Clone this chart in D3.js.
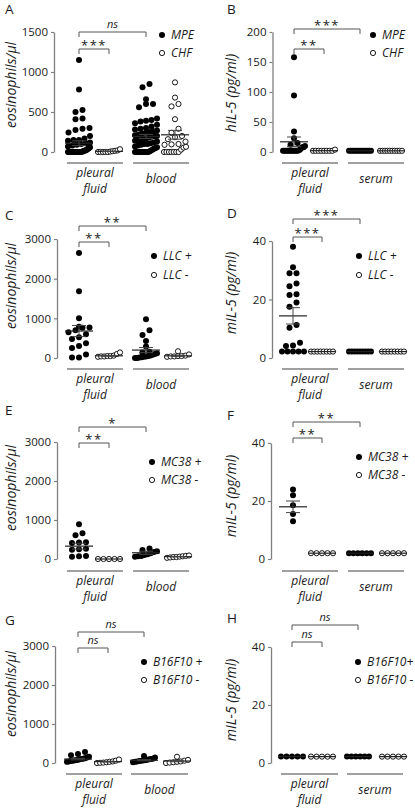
<!DOCTYPE html>
<html><head><meta charset="utf-8">
<script src="https://cdn.jsdelivr.net/npm/d3@7"></script>
<style>
body{margin:0;background:#fff}
svg{display:block}
text{font-family:"Open Sans",sans-serif;fill:#1a1a1a}
</style>
</head><body><script>
// ---------------- DATA ----------------
const panelLetters = ["A","B","C","D","E","F","G","H"];
const yLabels = ["eosinophils/\u03bcl","hIL-5 (pg/ml)","eosinophils/\u03bcl","mIL-5 (pg/ml)",
                 "eosinophils/\u03bcl","mIL-5 (pg/ml)","eosinophils/\u03bcl","mIL-5 (pg/ml)"];
const catsLeft = [["pleural","fluid"],["blood"]];
const catsRight = [["pleural","fluid"],["serum"]];
const legendA = ["MPE","CHF"];
const legendC = ["LLC +","LLC -"];
const legendE = ["MC38 +","MC38 -"];
const legendG = ["B16F10 +","B16F10 -"];
const legendH = ["B16F10+","B16F10 -"];
const ticksA = [0,500,1000,1500];
const ticksB = [0,50,100,150,200];
const ticksMouseEos = [0,1000,2000,3000];
const ticksMouseIL5 = [0,20,40];
const sigA = ["ns","***"], sigB = ["***","**"], sigC = ["**","**"], sigD = ["***","***"];
const sigE = ["*","**"], sigF = ["**","**"], sigG = ["ns","ns"], sigH = ["ns","ns"];

// Panel A: eosinophils/µl (MPE pleural, CHF pleural, MPE blood, CHF blood)
const A_MPE_pf = [1150,780,525,500,420,410,300,290,275,245,200,170,150,150,140,120,110,100,90,80,70,60,50,40,30,25,20,15,10,5,0,0,0,0,0,0,0,0,0,0,0,0,0,0,0];
const A_CHF_pf = [35,20,15,10,5,0,0,0,0,0];
const A_MPE_bl = [850,810,660,600,600,560,420,400,390,380,360,340,320,300,290,280,270,260,250,240,230,220,210,200,200,190,180,170,160,150,150,140,130,120,110,100,100,90,80,70,60,50,40,30,20,10,0,0,0,0,0,0,0,0,0,0];
const A_CHF_bl = [870,680,600,570,410,290,240,200,185,160,130,100,95,90,65,55,30,0,0,0,0,0,0,0];
const meansA = [110,8,195,215], semsA = [30,2,25,55];
// Panel B: hIL-5 pg/ml
const B_MPE_pf = [158,94,34,23,15,12,10,8,8,5,3,2,2,2,2,2,2,2,2,2,2,2];
const B_CHF_pf = [4,2,2,2,2,2,2,2,2];
const B_MPE_se = [2,2,2,2,2,2,2,2,2,2,2,2,2];
const B_CHF_se = [2,2,2,2,2,2,2,2,2,2];
const meansB = [17,2.2,2,2], semsB = [8,0,0,0];
// Panel C: LLC eosinophils
const C_pos_pf = [2650,1680,1000,790,770,760,700,650,600,520,480,370,300,250,90,10,10];
const C_neg_pf = [140,100,60,50,50,40,40,30];
const C_pos_bl = [980,700,580,430,290,160,140,120,100,80,60,50,40,30,20,10,0,0];
const C_neg_bl = [170,90,60,50,50,40,40,30];
const meansC = [680,55,200,55], semsC = [140,12,65,15];
// Panel D: LLC mIL-5
const D_pos_pf = [38,31,29,29,25.5,24.5,21.8,21.5,19,17.5,11.3,10.3,5.2,4.3,4.1,2.2,2.2,2.2,2.2,2.2];
const D_neg_pf = [2.2,2.2,2.2,2.2,2.2,2.2,2.2,2.2];
const D_pos_se = [2.2,2.2,2.2,2.2,2.2,2.2,2.2,2.2,2.2];
const D_neg_se = [2.2,2.2,2.2,2.2,2.2,2.2,2.2,2.2];
const meansD = [14.4,2.2,2.2,2.2], semsD = [2.8,0,0,0];
// Panel E: MC38 eosinophils
const E_pos_pf = [890,660,610,430,420,410,260,250,240,80,70,60];
const E_neg_pf = [0,0,0,0,0];
const E_pos_bl = [270,230,200,180,150,120,100,80,70,60];
const E_neg_bl = [90,80,70,60,50,50,40,30];
const meansE = [330,0,160,60], semsE = [75,0,40,6];
// Panel F: MC38 mIL-5
const F_pos_pf = [24,22,18.5,15.5,13];
const F_neg_pf = [2,2,2,2,2];
const F_pos_se = [2,2,2,2,2,2];
const F_neg_se = [2,2,2,2,2];
const meansF = [18,2,2,2], semsF = [2,0,0,0];
// Panel G: B16F10 eosinophils
const G_pos_pf = [280,230,200,160,140,120,110,100,90,80,70,60,50,40,30];
const G_neg_pf = [90,60,40,30,20,10,5,0];
const G_pos_bl = [180,140,110,100,90,80,70,60,50,40,30,20];
const G_neg_bl = [160,80,60,40,30,20,10,0];
const meansG = [100,35,70,50], semsG = [20,10,15,18];
// Panel H: B16F10 mIL-5
const H_pos_pf = [2.2,2.2,2.2,2.2,2.2];
const H_neg_pf = [2.2,2.2,2.2,2.2,2.2];
const H_pos_se = [2.2,2.2,2.2,2.2,2.2,2.2];
const H_neg_se = [2.2,2.2,2.2,2.2,2.2];
const meansH = [2.2,2.2,2.2,2.2], semsH = [0,0,0,0];

// ---------------- LAYOUT ----------------
const LSP = [[67,123],[133,189]], RSP = [[282,338],[348,404]];
const panels = [
 {data:[A_MPE_pf,A_CHF_pf,A_MPE_bl,A_CHF_bl], means:meansA, sems:semsA, ticks:ticksA, max:1500, legend:legendA, sig:sigA, cats:catsLeft,
  L:{ax:54,y0:152,y1:32,gx:[79,109,146,175],ul:163,sp:LSP,bT:32,bI:49,leg:[162,35,53],let:[5,14],lab:[16,85]}},
 {data:[B_MPE_pf,B_CHF_pf,B_MPE_se,B_CHF_se], means:meansB, sems:semsB, ticks:ticksB, max:200, legend:legendA, sig:sigB, cats:catsRight,
  L:{ax:272.5,y0:152,y1:32,gx:[294,324,360,391],ul:163,sp:RSP,bT:29,bI:49,leg:[373,35,53],let:[227,14],lab:[236,93]}},
 {data:[C_pos_pf,C_neg_pf,C_pos_bl,C_neg_bl], means:meansC, sems:semsC, ticks:ticksMouseEos, max:3000, legend:legendC, sig:sigC, cats:catsLeft,
  L:{ax:57,y0:358,y1:239,gx:[79,109,146,178],ul:369,sp:LSP,bT:226,bI:242,leg:[154,256,275],let:[5,220],lab:[16,286]}},
 {data:[D_pos_pf,D_neg_pf,D_pos_se,D_neg_se], means:meansD, sems:semsD, ticks:ticksMouseIL5, max:40, legend:legendC, sig:sigD, cats:catsRight,
  L:{ax:272,y0:358,y1:241,gx:[293,322,360,393],ul:369,sp:RSP,bT:219,bI:237,leg:[359,256,275],let:[227,218],lab:[236,293]}},
 {data:[E_pos_pf,E_neg_pf,E_pos_bl,E_neg_bl], means:meansE, sems:semsE, ticks:ticksMouseEos, max:3000, legend:legendE, sig:sigE, cats:catsLeft,
  L:{ax:57,y0:559,y1:442,gx:[79,109,146,178],ul:571,sp:LSP,bT:427,bI:443,leg:[152,462,480],let:[5,415],lab:[16,488]}},
 {data:[F_pos_pf,F_neg_pf,F_pos_se,F_neg_se], means:meansF, sems:semsF, ticks:ticksMouseIL5, max:40, legend:legendE, sig:sigF, cats:catsRight,
  L:{ax:271,y0:559,y1:443,gx:[293,322,360,393],ul:571,sp:RSP,bT:422,bI:438,leg:[359,457,475],let:[227,420],lab:[236,496]}},
 {data:[G_pos_pf,G_neg_pf,G_pos_bl,G_neg_bl], means:meansG, sems:semsG, ticks:ticksMouseEos, max:3000, legend:legendG, sig:sigG, cats:catsLeft,
  L:{ax:55,y0:763,y1:646,gx:[78,108,144,177],ul:774,sp:[[66,122],[131,188]],bT:632,bI:648,leg:[144,662,680],let:[5,625],lab:[16,694]}},
 {data:[H_pos_pf,H_neg_pf,H_pos_se,H_neg_se], means:meansH, sems:semsH, ticks:ticksMouseIL5, max:40, legend:legendH, sig:sigH, cats:catsRight,
  L:{ax:271,y0:763,y1:647,gx:[292,322,358,393],ul:774,sp:[[281,338],[347,403]],bT:625,bI:642,leg:[358,662,680],let:[227,623],lab:[236,700]}}
];

const R = 3, ROWH = 5.5, MAXSPAN = 22, GAP = 7;
const svg = d3.select("body").append("svg").attr("width",415).attr("height",808);

// row-based scatter layout (Prism-like)
function layout(vals, y, cx){
  const pts = vals.map(v => ({v, py:y(v)})).sort((a,b)=>b.py-a.py);
  const rows = [];
  pts.forEach(p => {
    const r = rows[rows.length-1];
    if (r && Math.abs(p.py - r[0].py) < ROWH) r.push(p); else rows.push([p]);
  });
  rows.forEach(r => {
    const n = r.length, s = n>1 ? Math.min(GAP, MAXSPAN/(n-1)) : 0;
    r.forEach((p,i) => p.px = cx + (i-(n-1)/2)*s);
  });
  return pts;
}

panels.forEach((P,pi) => {
  const L = P.L;
  const g = svg.append("g");
  const y = d3.scaleLinear().domain([0,P.max]).range([L.y0,L.y1]);
  const x = d3.scaleOrdinal().domain([0,1,2,3]).range(L.gx);

  const ax = g.append("g").attr("transform",`translate(${L.ax},0)`)
    .call(d3.axisLeft(y).tickValues(P.ticks).tickSize(3).tickSizeOuter(0).tickPadding(3).tickFormat(d3.format("d")));
  ax.select(".domain").attr("stroke","#808080").attr("stroke-width",1.3);
  ax.selectAll(".tick line").attr("stroke","#808080").attr("stroke-width",1.2);
  ax.selectAll(".tick text").style("font-family","'Open Sans',sans-serif").style("font-size","11.5px").attr("fill","#1a1a1a");

  g.append("text").attr("transform",`translate(${L.lab[0]},${L.lab[1]}) rotate(-90)`)
    .attr("text-anchor","middle").style("font-size","14px").style("font-style","italic").text(yLabels[pi]);
  g.append("text").attr("x",L.let[0]).attr("y",L.let[1]).style("font-size","13.5px").text(panelLetters[pi]);

  L.sp.forEach((sp,ci) => {
    g.append("line").attr("x1",sp[0]).attr("x2",sp[1]).attr("y1",L.ul).attr("y2",L.ul)
      .attr("stroke","#808080").attr("stroke-width",1.5);
    const lines = P.cats[ci], cx = (sp[0]+sp[1])/2;
    const t = g.append("text").attr("text-anchor","middle").style("font-size","12px").style("font-style","italic");
    if (lines.length===2){
      t.append("tspan").attr("x",cx).attr("y",L.ul+14).text(lines[0]);
      t.append("tspan").attr("x",cx).attr("y",L.ul+30).text(lines[1]);
    } else t.attr("x",cx).attr("y",L.ul+20).text(lines[0]);
  });

  const br = [[L.bT, x(0), x(2), P.sig[0]],[L.bI, x(0), x(1), P.sig[1]]];
  br.forEach(([by,x1,x2,s]) => {
    g.append("path").attr("d",`M${x1},${by+5}V${by}H${x2}V${by+5}`).attr("fill","none")
      .attr("stroke","#555").attr("stroke-width",1);
    const isNs = s==="ns";
    g.append("text").attr("x",(x1+x2)/2).attr("y", isNs ? by-4 : by+1).attr("text-anchor","middle")
      .style("font-size", isNs ? "11px":"13px").style("font-style", isNs ? "italic":"normal")
      .style("letter-spacing", isNs ? "0px":"1.5px").text(s);
  });

  P.data.forEach((vals,gi) => {
    const pts = layout(vals, y, x(gi));
    const filled = gi%2===0;
    g.append("g").selectAll("circle").data(pts).join("circle")
      .attr("cx",d=>d.px).attr("cy",d=>d.py).attr("r", filled ? R : R-0.4)
      .attr("fill", filled ? "#000" : "#fff").attr("stroke","#000").attr("stroke-width", filled ? 0 : 0.9);
  });

  P.means.forEach((m,gi) => {
    const cx = x(gi), s = P.sems[gi];
    g.append("line").attr("x1",cx-14).attr("x2",cx+14).attr("y1",y(m)).attr("y2",y(m))
      .attr("stroke","#222").attr("stroke-width",1.2);
    if (s>0){
      const e = g.append("g").attr("stroke","#444").attr("stroke-width",1);
      e.append("line").attr("x1",cx).attr("x2",cx).attr("y1",y(Math.max(0,m-s))).attr("y2",y(m+s));
      e.append("line").attr("x1",cx-7).attr("x2",cx+7).attr("y1",y(m+s)).attr("y2",y(m+s));
      e.append("line").attr("x1",cx-7).attr("x2",cx+7).attr("y1",y(Math.max(0,m-s))).attr("y2",y(Math.max(0,m-s)));
    }
  });

  P.legend.forEach((lab,li) => {
    const ly = L.leg[1+li];
    g.append("circle").attr("cx",L.leg[0]).attr("cy",ly).attr("r", li===0 ? 3 : 2.6)
      .attr("fill", li===0 ? "#000":"#fff").attr("stroke","#000").attr("stroke-width", li===0?0:0.9);
    g.append("text").attr("x",L.leg[0]+9).attr("y",ly+4.3).style("font-size","12px").style("font-style","italic").text(lab);
  });
});
</script></body></html>
